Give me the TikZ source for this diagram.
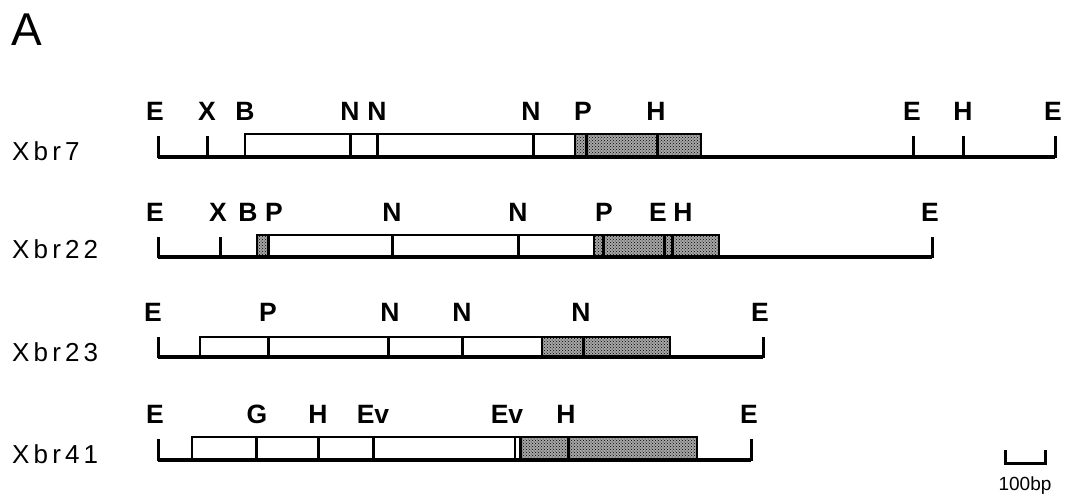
\documentclass[tikz,border=0pt]{standalone}
\usepackage{fontspec}
\setmainfont{Liberation Sans}
\newfontfamily\rowfont[LetterSpace=16]{Liberation Sans}
\usetikzlibrary{patterns}
\begin{document}
\begin{tikzpicture}[x=1pt,y=-1pt,
  site/.style={font=\bfseries\fontsize{26.5}{26.5}\selectfont, inner sep=0pt, anchor=base},
  rowname/.style={font=\rowfont\fontsize{26}{26}\selectfont, inner sep=0pt, anchor=base west},
  baseln/.style={line width=3.4pt},
  tickln/.style={line width=3pt},
  boxln/.style={draw, line width=1.8pt},
  cutln/.style={line width=3pt},
  thinln/.style={line width=1.5pt},
  shd/.style={pattern=crosshatch dots, pattern color=black},
  shdbg/.style={fill=black!35}
]
\useasboundingbox (0,0) rectangle (1066,499);

\node[font=\fontsize{46}{46}\selectfont, inner sep=0pt, anchor=base] (panelA) at (27,45) {A};

% ---------------- Xbr7 ----------------
\node[rowname] (n7) at (12,160) {Xbr7};
\fill[shdbg] (575,134) rectangle (701,157);
\fill[shd] (575,134) rectangle (701,157);
\draw[boxln] (245,134) rectangle (701,157);
\foreach \x in {350,377,533,586,657} \draw[cutln] (\x,134) -- (\x,157);
\draw[thinln] (575,134) -- (575,157);
\draw[baseln] (158,157) -- (1055,157);
\foreach \x in {158,207,913,963,1055} \draw[tickln] (\x,136) -- (\x,158);
\node[site] (a1) at (155,120) {E};
\node[site] (a2) at (207,120) {X};
\node[site] (a3) at (245,120) {B};
\node[site] (a4) at (350,120) {N};
\node[site] (a5) at (377,120) {N};
\node[site] (a6) at (531,120) {N};
\node[site] (a7) at (583,120) {P};
\node[site] (a8) at (656,120) {H};
\node[site] (a9) at (912,120) {E};
\node[site] (a10) at (963,120) {H};
\node[site] (a11) at (1053,120) {E};

% ---------------- Xbr22 ----------------
\node[rowname] (n22) at (12,258) {Xbr22};
\fill[shdbg] (257,235) rectangle (268,257);
\fill[shd] (257,235) rectangle (268,257);
\fill[shdbg] (594,235) rectangle (719,257);
\fill[shd] (594,235) rectangle (719,257);
\draw[boxln] (257,235) rectangle (719,257);
\foreach \x in {268,392,518,603,664,672} \draw[cutln] (\x,235) -- (\x,257);
\draw[thinln] (594,235) -- (594,257);
\draw[baseln] (158,257) -- (932,257);
\foreach \x in {158,220,932} \draw[tickln] (\x,237) -- (\x,258);
\node[site] (b1) at (155,221) {E};
\node[site] (b2) at (218,221) {X};
\node[site] (b3) at (248,221) {B};
\node[site] (b4) at (274,221) {P};
\node[site] (b5) at (392,221) {N};
\node[site] (b6) at (518,221) {N};
\node[site] (b7) at (604,221) {P};
\node[site] (b8) at (658,221) {E};
\node[site] (b9) at (683,221) {H};
\node[site] (b10) at (930,221) {E};

% ---------------- Xbr23 ----------------
\node[rowname] (n23) at (12,361) {Xbr23};
\fill[shdbg] (542,337) rectangle (670,357);
\fill[shd] (542,337) rectangle (670,357);
\draw[boxln] (200,337) rectangle (670,357);
\foreach \x in {268,388,462,583} \draw[cutln] (\x,337) -- (\x,357);
\draw[thinln] (542,337) -- (542,357);
\draw[baseln] (158,357) -- (763,357);
\foreach \x in {158,763} \draw[tickln] (\x,337) -- (\x,358);
\node[site] (c1) at (153,321) {E};
\node[site] (c2) at (268,321) {P};
\node[site] (c3) at (390,321) {N};
\node[site] (c4) at (462,321) {N};
\node[site] (c5) at (581,321) {N};
\node[site] (c6) at (760,321) {E};

% ---------------- Xbr41 ----------------
\node[rowname] (n41) at (12,463) {Xbr41};
\fill[shdbg] (520,437) rectangle (697,460);
\fill[shd] (520,437) rectangle (697,460);
\draw[boxln] (192,437) rectangle (697,460);
\foreach \x in {256,318,373,520,568} \draw[cutln] (\x,437) -- (\x,460);
\draw[thinln] (515,437) -- (515,460);
\draw[baseln] (158,460) -- (751,460);
\foreach \x in {158,751} \draw[tickln] (\x,439) -- (\x,461);
\node[site] (d1) at (155,423) {E};
\node[site] (d2) at (257,423) {G};
\node[site] (d3) at (318,423) {H};
\node[site] (d4) at (373,423) {Ev};
\node[site] (d5) at (507,423) {Ev};
\node[site] (d6) at (566,423) {H};
\node[site] (d7) at (749,423) {E};

% ---------------- scale bar ----------------
\coordinate (s1) at (1005,450);
\coordinate (s2) at (1045,450);
\draw[tickln] (s1) -- (1005,463) -- (1045,463) -- (s2);
\node[font=\fontsize{19}{19}\selectfont, inner sep=0pt, anchor=base] (sb) at (1025,490) {100bp};
\end{tikzpicture}
\end{document}
